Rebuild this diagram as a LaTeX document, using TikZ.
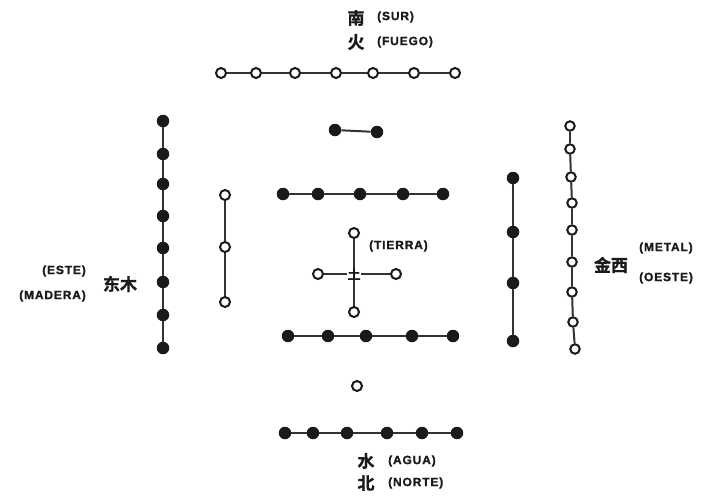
\documentclass[tikz,border=0pt]{standalone}
\usepackage{fontspec}
\setmainfont{Liberation Sans}
\newfontfamily\labfont{Liberation Sans}[LetterSpace=7, UprightFont={* Bold}, FakeBold=1.2]
\newfontfamily\cjk{Noto Sans CJK SC}[UprightFont={* Bold}, FakeBold=1]
\definecolor{ink}{HTML}{1A1A1A}
\definecolor{wire}{HTML}{333333}
\begin{document}
\begin{tikzpicture}[x=1pt,y=-1pt,
  yin/.style={circle,fill=ink,inner sep=0pt,minimum size=12.5pt},
  yang/.style={circle,draw=ink,line width=2pt,fill=white,inner sep=0pt,minimum size=10pt},
  link/.style={draw=wire,line width=2pt},
  lab/.style={font=\labfont\fontsize{12}{14}\selectfont,text=ink,inner sep=0pt},
  han/.style={font=\cjk\fontsize{17}{19}\selectfont,text=ink,inner sep=0pt}]
\useasboundingbox[fill=white] (0,0) rectangle (704,499);

% South: 7 open
\foreach \x [count=\i] in {221,256,295,336,373,414,455}
  \node[yang] (s\i) at (\x,73) {};
% Pair filled
\node[yin] (p1) at (335,130) {};
\node[yin] (p2) at (377,132) {};
% Upper five filled
\foreach \x [count=\i] in {283,318,360,403,443}
  \node[yin] (u\i) at (\x,194) {};
% Center
\node[han,font=\cjk\fontsize{13}{14}\selectfont,fill=white,inner sep=0.3pt] (c) at (354,274) {土};
\node[yang] (ct) at (354,233) {};
\node[yang] (cl) at (318,274) {};
\node[yang] (cr) at (396,274) {};
\node[yang] (cb) at (354,312) {};
% Lower five filled
\foreach \x [count=\i] in {288,328,366,412,453}
  \node[yin] (l\i) at (\x,336) {};
% Single open
\node[yang] (one) at (357,386) {};
% North six filled
\foreach \x [count=\i] in {285,313,347,387,422,457}
  \node[yin] (n\i) at (\x,433) {};
% East: 8 filled
\foreach \y [count=\i] in {121,154,184,216,248,282,315,348}
  \node[yin] (e\i) at (163,\y) {};
% East: 3 open
\foreach \y [count=\i] in {195,247,302}
  \node[yang] (t\i) at (225,\y) {};
% West: 4 filled
\foreach \y [count=\i] in {178,232,283,341}
  \node[yin] (f\i) at (513,\y) {};
% West: 9 open
\node[yang,minimum size=9.5pt] (w1) at (570,126) {};
\node[yang,minimum size=9.5pt] (w2) at (570,149) {};
\node[yang,minimum size=9.5pt] (w3) at (571,177) {};
\node[yang,minimum size=9.5pt] (w4) at (572,203) {};
\node[yang,minimum size=9.5pt] (w5) at (572,230) {};
\node[yang,minimum size=9.5pt] (w6) at (572,262) {};
\node[yang,minimum size=9.5pt] (w7) at (572,292) {};
\node[yang,minimum size=9.5pt] (w8) at (573,322) {};
\node[yang,minimum size=9.5pt] (w9) at (575,349) {};

% connectors
\foreach \a/\b in {1/2,2/3,3/4,4/5,5/6,6/7} \draw[link] (s\a) -- (s\b);
\draw[link] (p1) -- (p2);
\foreach \a/\b in {1/2,2/3,3/4,4/5} \draw[link] (u\a) -- (u\b);
\foreach \a/\b in {1/2,2/3,3/4,4/5} \draw[link] (l\a) -- (l\b);
\foreach \a/\b in {1/2,2/3,3/4,4/5,5/6} \draw[link] (n\a) -- (n\b);
\foreach \a/\b in {1/2,2/3,3/4,4/5,5/6,6/7,7/8} \draw[link] (e\a) -- (e\b);
\foreach \a/\b in {1/2,2/3} \draw[link] (t\a) -- (t\b);
\foreach \a/\b in {1/2,2/3,3/4} \draw[link] (f\a) -- (f\b);
\foreach \a/\b in {1/2,2/3,3/4,4/5,5/6,6/7,7/8,8/9} \draw[link] (w\a) -- (w\b);
\draw[link] (ct) -- (c);
\draw[link] (c) -- (cb);
\draw[link] (cl) -- (c);
\draw[link] (c) -- (cr);

% labels
\node[han] (hs1) at (356,18) {南};
\node[lab,anchor=west] (ls1) at (377,17) {(SUR)};
\node[han] (hs2) at (356,42) {火};
\node[lab,anchor=west] (ls2) at (377,42) {(FUEGO)};

\node[han] (he) at (120,284) {东木};
\node[lab,anchor=east] (le1) at (86,271) {(ESTE)};
\node[lab,anchor=east] (le2) at (86,296) {(MADERA)};

\node[lab,anchor=west] (lc) at (369,246) {(TIERRA)};

\node[han] (hw) at (611,265) {金西};
\node[lab,anchor=west] (lw1) at (639,248) {(METAL)};
\node[lab,anchor=west] (lw2) at (639,278) {(OESTE)};

\node[han] (hn1) at (366,461) {水};
\node[lab,anchor=west] (ln1) at (388,461) {(AGUA)};
\node[han] (hn2) at (366,483) {北};
\node[lab,anchor=west] (ln2) at (388,483) {(NORTE)};
\end{tikzpicture}
\end{document}
